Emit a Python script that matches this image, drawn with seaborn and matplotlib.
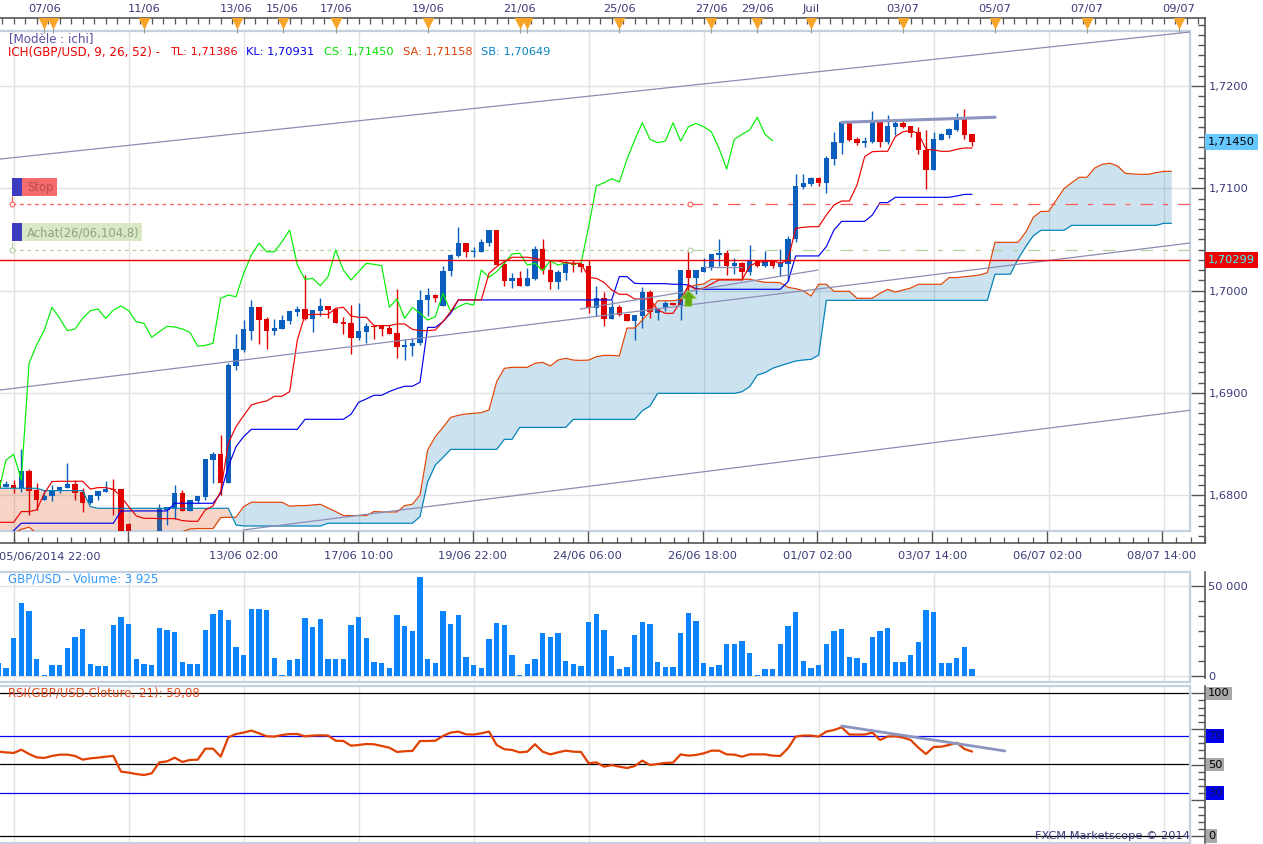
import numpy as np
import matplotlib
matplotlib.use("Agg")
import matplotlib.pyplot as plt
from matplotlib.patches import Rectangle
from matplotlib.path import Path
from matplotlib.ticker import FixedLocator
import seaborn as sns

# Candles, in pips above 1.0000 (6815 means 1,6815), first bar is index -1
bar_open = [6815,6808,6810,6807,6824,6805,6795,6799,6804,6807,6811,6803,6792,6799,6803,6806,6806,6772,6752,6748,
    6752,6763,6786,6787,6802,6785,6794,6798,6834,6840,6812,6926,6942,6961,6984,6972,6961,6962,6970,6979,
    6982,6972,6980,6985,6982,6969,6968,6954,6960,6965,6965,6963,6959,6945,6946,6949,6991,6996,6985,7019,
    7034,7047,7038,7038,7047,7059,7026,7009,7012,7005,7011,7041,7020,7008,7017,7027,7026,7024,6983,6993,
    6972,6984,6977,6970,6975,6999,6978,6983,6988,6986,7020,7012,7018,7023,7035,7037,7024,7027,7018,7029,
    7024,7029,7023,7026,7050,7101,7104,7110,7105,7129,7144,7165,7148,7144,7145,7165,7145,7160,7164,7161,
    7155,7137,7118,7147,7152,7157,7170,7153]
bar_close = [6807,6811,6807,6824,6804,6795,6799,6805,6808,6811,6802,6792,6800,6804,6806,6805,6763,6755,6748,6752,
    6757,6787,6788,6802,6785,6795,6799,6835,6840,6812,6927,6943,6962,6984,6971,6961,6963,6971,6980,6982,
    6972,6981,6985,6981,6968,6967,6954,6961,6965,6964,6962,6958,6945,6947,6949,6991,6996,6993,7019,7035,
    7047,7038,7039,7048,7059,7025,7009,7012,7005,7012,7041,7020,7008,7018,7026,7025,7023,6983,6993,6972,
    6984,6976,6970,6976,6999,6979,6983,6988,6986,7020,7012,7020,7023,7036,7037,7024,7027,7018,7029,7024,
    7029,7024,7027,7050,7102,7105,7110,7105,7130,7145,7165,7147,7144,7146,7165,7145,7161,7164,7160,7154,
    7137,7118,7148,7153,7158,7170,7152,7145]
bar_high = [6818,6814,6815,6845,6826,6812,6805,6810,6808,6831,6815,6807,6800,6804,6814,6816,6806,6773,6756,6755,
    6760,6791,6788,6810,6805,6795,6799,6835,6842,6859,6929,6958,6971,6991,6984,6974,6972,6976,6980,6985,
    7015,6981,6993,6985,6982,6974,6986,6988,6968,6965,6966,6966,7002,6953,6954,7001,7003,6997,7024,7036,
    7062,7047,7043,7050,7059,7059,7030,7017,7019,7022,7044,7050,7030,7020,7030,7030,7026,7030,7005,6999,
    6991,6986,6977,6976,7004,7001,6983,6990,6988,7020,7040,7020,7032,7036,7050,7040,7032,7028,7045,7029,
    7039,7029,7041,7053,7114,7114,7111,7111,7132,7155,7165,7165,7150,7150,7176,7167,7172,7166,7166,7161,
    7160,7157,7155,7154,7159,7174,7178,7153]
bar_low = [6807,6808,6802,6803,6781,6786,6795,6794,6802,6807,6795,6784,6791,6795,6803,6781,6760,6750,6745,6745,
    6750,6755,6771,6777,6785,6785,6792,6795,6812,6800,6812,6922,6940,6952,6948,6943,6957,6962,6967,6975,
    6971,6960,6975,6973,6968,6958,6938,6952,6949,6953,6956,6958,6934,6932,6936,6947,6975,6989,6985,7014,
    7033,7033,7033,7038,7044,7025,7005,7003,7005,7005,7010,7016,7002,7002,7010,7018,7018,6978,6975,6965,
    6972,6975,6970,6952,6963,6973,6971,6980,6986,6971,6997,6997,7018,7020,7024,7015,7016,7010,7015,7023,
    7023,7022,7014,7009,7048,7099,7102,7102,7095,7123,7134,7146,7142,7140,7144,7140,7143,7152,7159,7150,
    7134,7099,7118,7147,7149,7156,7148,7141]

# Ichimoku lines, same units
tenkan = [6773.5,6773.5,6773.5,6784,6784,6785.6,6801.9,6813.3,6813.6,6813.6,6813.6,6813.6,6806,6807.4,6807.4,6805.8,
    6798.6,6788.8,6779.7,6777.4,6777.4,6777.1,6777.1,6777.1,6775.2,6774.5,6774.5,6785.6,6789.5,6803.5,6850.8,6867,
    6877.8,6888.2,6890.5,6892.1,6896.7,6896.7,6901.3,6951.8,6976.2,6976.8,6976.8,6976.8,6982.7,6983.7,6975.2,6973.9,
    6973.9,6965.8,6965.8,6965.8,6967.4,6967.4,6962.2,6960.9,6960.9,6961.5,6969.7,6979.5,6990.9,6990.9,6990.9,6990.9,
    7016.9,7023.4,7028.3,7032.6,7032.6,7032.6,7031.6,7030,7029.3,7029,7027.3,7026.7,7026.7,7013,7012,7008.1,
    7000.6,6996.4,6996.4,6991.8,6991.8,6991.8,6981.1,6977.8,6977.8,6989.2,7005.5,7001.3,7002.3,7006.5,7010.4,7010.4,
    7010.4,7010.4,7024.1,7027.7,7028.3,7029.3,7026.7,7029.9,7060.9,7061.9,7062.5,7062.5,7073.9,7083.7,7087.6,7087.6,
    7103.2,7131,7135.8,7136.2,7136.2,7150.5,7155.4,7156.4,7153.7,7138.1,7137.5,7136.2,7136.2,7138.1,7139.4,7139.4]
kijun = [6760,6760,6765.4,6772.6,6772.6,6772.6,6772.6,6772.6,6772.6,6772.6,6772.6,6772.6,6772.6,6772.6,6772.6,6772.6,
    6784.6,6784.6,6784.6,6784.6,6784.6,6784.6,6784.6,6792.1,6792.1,6792.1,6792.1,6792.1,6792.1,6801.9,6828,6847.5,
    6857.3,6864.4,6864.4,6864.4,6864.4,6864.4,6864.4,6864.4,6874.2,6874.2,6874.2,6874.2,6874.2,6874.2,6879.1,6890.8,
    6894.1,6897.7,6897.7,6901.3,6904.2,6906.5,6906.5,6910.4,6964.1,6964.1,6969.7,6977.8,6990.9,6990.9,6990.9,6990.9,
    6990.9,6990.9,6990.9,6990.9,6990.9,6990.9,6990.9,6990.9,6990.9,6990.9,6990.9,6990.9,6990.9,6990.9,6990.9,6990.9,
    6990.9,7013.7,7013.7,7007.1,7006.8,7006.8,7006.8,7006.8,7006.2,7006.2,7005.5,7001.9,7001.3,7001.3,7001.3,7001.3,
    7001.3,7001.3,7001.3,7001.3,7001.3,7001.3,7001.3,7008.8,7033.9,7033.9,7033.9,7033.9,7043,7059.3,7067.7,7067.7,
    7067.7,7067.7,7073.9,7086,7086,7091.2,7091.2,7091.2,7091.2,7091.2,7091.2,7091.2,7091.2,7092.5,7094.1,7094.1]
chikou = [6802.2,6834.4,6840,6814.9,6928.9,6946.8,6961.5,6983.7,6972.9,6960.8,6962.5,6972.9,6980.4,6982,6972.9,6981,
    6985,6980.4,6969.6,6968,6954.4,6959.8,6965.1,6964.4,6962.5,6959.2,6945.6,6946.5,6948.5,6992.5,6995.7,6994,
    7016.9,7034.8,7046.2,7038,7038,7047.8,7059.2,7025,7011,7012,7004.8,7013.6,7039.7,7020.1,7010.4,7018.5,
    7026.7,7025.7,7024.3,6983.7,6991.8,6972.9,6983.7,6977.8,6971.3,6974.5,6997.4,6979.4,6984.3,6987.6,6985.9,7020.1,
    7013,7018.5,7026.7,7035.8,7036.5,7025,7026.7,7019.5,7029.2,7025,7027.2,7026,7026.7,7062.5,7102.3,7105.5,
    7109.4,7106.2,7128.3,7147.2,7164.1,7147.9,7144.6,7146.2,7164.1,7146.2,7160.2,7163.5,7160.2,7155.3,7139.1,7118.9,
    7147.9,7152.8,7157,7169.4,7152.8,7146.5]
senkou_a = [6762.8,6759.5,6762.8,6766.7,6768.7,6762.8,6755,6755,6755,6755,6755,6755,6755,6755,6755,6755,
    6755,6755,6755,6755,6755,6755,6755,6755,6764.4,6767,6767.4,6767.4,6767.4,6778.1,6778.4,6778.4,
    6788.8,6793.1,6793.1,6793.1,6793.1,6793.1,6789.2,6789.8,6789.8,6790.5,6791.1,6787.6,6784,6780.1,6780.1,6780.1,
    6780.1,6784,6783.6,6783.6,6783.6,6789.8,6791.1,6800.2,6844.2,6857.2,6866.3,6876.1,6878.1,6879.4,6880,6880.7,
    6883.3,6911,6924,6925,6925,6925,6928.9,6929.9,6926.3,6932.1,6933.8,6932.1,6931.8,6932.1,6935.4,6936.7,
    6936.7,6936.1,6963.4,6963.4,6971.3,6979.4,6990.1,6990.1,6990.1,6991.5,7003.2,7005.5,7006.5,7011.1,7011.1,7011.1,
    7011.1,7011.1,7011.1,7009.4,7008.1,7008.1,7007.7,7003.2,7001.9,6999.9,6994.7,7006.2,7006.2,6999.3,6999.3,6999.3,
    6992.5,6992.5,6992.5,6997.4,7001.3,6998.6,7000.6,7002.5,7006.2,7006.2,7006.2,7006.2,7012.7,7012.7,7013.6,7014.3,
    7015.3,7017.5,7047.2,7047.2,7047.2,7047.2,7057,7071.7,7077.5,7077.5,7088.6,7099.7,7105.5,7110.8,7110.8,7119.8,
    7123.5,7124.5,7121.8,7114.7,7114,7113.7,7113.7,7115.3,7116.6,7116.6]
senkou_b = [6806.8,6806.8,6806.8,6806.8,6806.8,6806.8,6804.5,6804.5,6804.5,6804.5,6804.5,6804.5,6788.8,6787.2,6787.2,6787.2,
    6787.2,6787.2,6787.2,6787.2,6787.2,6787.2,6787.2,6787.2,6787.2,6787.2,6787.2,6787.2,6787.2,6787.2,6787.2,6770.9,
    6769.9,6769.9,6769.9,6769.9,6769.9,6769.9,6769.9,6769.9,6769.9,6769.9,6769.9,6772.6,6772.6,6772.6,6772.6,6772.6,
    6772.6,6772.6,6772.6,6772.6,6772.6,6772.6,6772.6,6779,6813.2,6829.5,6837,6844.8,6844.8,6844.8,6844.8,6844.8,
    6844.8,6844.8,6854.6,6854.6,6866.3,6866.3,6866.3,6866.3,6866.3,6866.3,6866.3,6874.2,6874.2,6874.2,6874.2,6874.2,
    6874.2,6874.2,6874.2,6874.2,6882.6,6887.2,6899.6,6899.6,6899.6,6899.6,6899.6,6899.6,6899.6,6899.6,6899.6,6899.6,
    6899.6,6901.2,6906.1,6917.5,6919.8,6924.1,6926.6,6928.9,6931.2,6932.2,6932.8,6937,6990.5,6990.5,6990.5,6990.5,
    6990.5,6990.5,6990.5,6990.5,6990.5,6990.5,6990.5,6990.5,6990.5,6990.5,6990.5,6990.5,6990.5,6990.5,6990.5,6990.5,
    6990.5,6990.5,7016,7016,7016,7030.9,7042.9,7053.7,7059,7059,7059,7059,7063.8,7063.8,7063.8,7063.8,
    7063.8,7063.8,7063.8,7063.8,7063.8,7063.8,7063.8,7063.8,7065.8,7065.8]

volume = [7254,4464,21204,40734,36270,9486,372,6138,6138,15624,21762,26226,6696,5580,5580,28458,32922,29016,9486,6696,
    6138,26784,25668,24552,7812,6696,6696,25668,34596,36828,31248,16182,11718,37386,37386,36828,10044,558,8928,9486,
    32364,27342,31806,9486,9486,9486,28458,32922,21204,7812,7254,4464,34038,27900,25110,55242,9486,7254,36270,29016,
    34038,10602,6138,4464,20646,29574,28458,11718,558,6696,9486,23994,21762,23994,8370,6696,5580,30132,34596,25668,
    11160,3906,5022,22878,30132,29016,7812,5022,5022,23994,35154,30690,7254,5022,6138,17856,17856,19530,12834,372,
    3906,3906,17856,27900,35712,8370,4464,6138,17856,25110,26226,10602,10044,7254,21762,25110,26784,7812,7812,11718,
    18972,36828,35712,7254,7254,10044,16182,3925]

rsi = [59.0,58.5,58.1,60.4,57.4,55.0,54.6,56.0,56.9,56.9,56.0,53.4,54.3,54.8,55.5,56.0,45.0,44.3,43.3,42.6,
    43.8,51.5,52.2,54.8,51.8,53.2,53.4,61.1,61.1,55.5,69.1,71.4,72.4,73.8,71.9,69.8,69.6,70.7,71.4,71.4,
    69.8,70.3,70.5,70.3,66.7,66.5,63.2,63.7,64.4,64.2,63.0,61.8,58.8,59.3,59.5,66.5,66.5,66.7,70.0,72.4,
    73.1,71.2,71.0,71.9,73.1,63.7,60.7,60.2,58.5,59.0,64.2,59.0,57.1,58.5,59.7,59.0,58.8,50.8,51.5,48.5,
    49.6,48.5,47.5,48.9,52.7,49.6,50.4,51.1,51.3,57.1,56.2,56.7,57.8,59.7,59.7,57.1,56.9,55.5,57.1,57.1,
    57.1,56.2,56.0,61.4,69.6,70.3,70.3,69.6,73.1,74.2,76.1,71.0,71.0,71.0,72.4,67.2,69.6,69.8,68.9,67.2,
    61.8,57.4,62.3,62.5,63.7,65.3,60.9,59.08]

# Trend lines: (index, pips) at both ends
trend_thin = [([-0.78, 154.4], [7128.6, 7252.8]), ([-0.78, 154.4], [6902.8, 7046.5]),
    ([74.9, 105.9], [6982, 7020.1]), ([30.9, 154.4], [6766, 6883]), ([91, 96], [7023, 7023])]
trend_thick = ([109, 129], [7164.5, 7169.5])
rsi_trend = ([109, 130.3], [77, 59.5])

last_price = 7029.9
stop_price = 7084.4
entry_price = 7040
arrow_bar = 89
arrow_price = 6993

# Date marks along the top strip and labels under the chart
event_bars = [5, 6.1, 18, 30.1, 36.1, 43, 55, 67, 68, 80, 92, 98, 105, 117, 129, 141, 153]
top_bars = [5, 18, 30, 36, 43, 55, 67, 80, 92, 98, 105, 117, 129, 141, 153]
top_labels = ["07/06", "11/06", "13/06", "15/06", "17/06", "19/06", "21/06", "25/06", "27/06", "29/06",
    "Juil", "03/07", "05/07", "07/07", "09/07"]
date_bars = [31, 46, 61, 76, 91, 106, 121, 136, 151]
date_labels = ["13/06 02:00", "17/06 10:00", "19/06 22:00", "24/06 06:00", "26/06 18:00",
    "01/07 02:00", "03/07 14:00", "06/07 02:00", "08/07 14:00"]
first_date = "05/06/2014 22:00"

W, H = 1263, 844
PANEL_R = 1190
AXIS_R = 1205
BAR_PX = 115 / 15
TXT = "#3a3a78"
FRAME = "#c5d0de"
GRID = "#e2e2e2"
BLUE = "#0a5fbe"
RED = "#e00000"

sns.set_theme(style="white")
plt.rcParams["font.family"] = ["DejaVu Sans"]
plt.rcParams["font.size"] = 8

fig = plt.figure(figsize=(W / 100, H / 100), dpi=100, facecolor="white")


def price(pips):
    return 1 + np.array(pips) / 1e4


def index_at(px):
    return (px - 6) / BAR_PX


def add_box(left, top, right, bottom):
    # axes placed from pixel edges, y counted from the top of the figure
    return fig.add_axes([left / W, 1 - bottom / H, (right - left) / W, (bottom - top) / H])


def add_panel(top, bottom, ylim):
    ax = add_box(0, top, PANEL_R, bottom)
    ax.set_xlim(index_at(0), index_at(PANEL_R))
    ax.set_ylim(*ylim)
    ax.set_facecolor("white")
    ax.spines["left"].set_visible(False)
    for side in ["top", "bottom", "right"]:
        ax.spines[side].set_color(FRAME)
        ax.spines[side].set_linewidth(1.6)
    ax.tick_params(left=False, bottom=False, labelleft=False, labelbottom=False)
    ax.set_xticks(range(1, 155, 15))
    ax.grid(axis="x", color=GRID, linewidth=1)
    ax.set_axisbelow(True)
    return ax


def add_scale(top, bottom, ylim, majors, minors, labels):
    # dark ruler to the right of a panel, ticks point inwards
    ax = add_box(PANEL_R + 1, top, AXIS_R, bottom)
    ax.patch.set_alpha(0)
    ax.set_xticks([])
    ax.set_ylim(*ylim)
    for side in ["left", "top", "bottom"]:
        ax.spines[side].set_visible(False)
    ax.spines["right"].set_color("#555555")
    ax.spines["right"].set_linewidth(1.2)
    ax.yaxis.tick_right()
    ax.yaxis.set_major_locator(FixedLocator(majors))
    ax.yaxis.set_minor_locator(FixedLocator(minors))
    if labels:
        ax.set_yticklabels(labels)
    ax.tick_params(axis="y", which="major", direction="in", length=10, width=1, color="#555555",
                   labelcolor=TXT, labelsize=8.2, pad=2.5, labelright=bool(labels))
    ax.tick_params(axis="y", which="minor", direction="in", length=5, width=1, color="#555555")
    return ax


def line(ax, x, y, color, lw=0.85, z=4):
    sns.lineplot(x=x, y=y, ax=ax, color=color, linewidth=lw, estimator=None, errorbar=None,
                 legend=False, zorder=z)


def px_text(x, y, s, color, size=8.2):
    fig.text(x / W, 1 - y / H, s, color=color, fontsize=size, va="center", ha="left")


# ---- main price panel
price_lim = (1.6765, 1.72538)
ax = add_panel(31, 531, price_lim)
ax.set_yticks([1.68, 1.69, 1.70, 1.71, 1.72])
ax.grid(axis="y", color=GRID, linewidth=1)

bars = np.arange(-1, -1 + len(bar_open))
o = price(bar_open)
c = price(bar_close)
hi = price(bar_high)
lo = price(bar_low)

# cloud first so that candles and lines stay on top
cloud_x = np.arange(-1, -1 + len(senkou_a))
span_a = price(senkou_a)
span_b = price(senkou_b)
ax.fill_between(cloud_x, span_a, span_b, where=span_a >= span_b, interpolate=True,
                facecolor=(0.0, 0.45, 0.7, 0.2), linewidth=0, zorder=1)
ax.fill_between(cloud_x, span_a, span_b, where=span_a < span_b, interpolate=True,
                facecolor=(0.85, 0.25, 0.0, 0.22), linewidth=0, zorder=1)

up = c >= o
colors = np.where(up, BLUE, RED).astype(object)
colors[21] = "#2f5a9a"  # this candle sits under the cloud tint
ax.vlines(bars, lo, hi, colors=list(colors), linewidth=1.0, zorder=3)
ax.bar(bars, np.abs(c - o), bottom=np.minimum(o, c), width=0.66, color=list(colors), linewidth=0, zorder=3)

line(ax, cloud_x, span_a, "#e04000", z=4)
line(ax, cloud_x, span_b, "#0080b8", z=4)
line(ax, np.arange(-1, -1 + len(chikou)), price(chikou), "#00f000", z=5)
line(ax, np.arange(-1, -1 + len(kijun)), price(kijun), "#0000ee", z=5)
line(ax, np.arange(-1, -1 + len(tenkan)), price(tenkan), "#ee0000", z=5)

for tx, ty in trend_thin:
    line(ax, tx, price(ty), "#8c8cb4", lw=0.9, z=6)
line(ax, trend_thick[0], price(trend_thick[1]), "#8c94c0", lw=2.2, z=6)

ax.axhline(price(last_price), color="#ee0000", linewidth=1.0, zorder=6)

# stop and entry lines, tighter dashes up to the order bar
stop_x = index_at(12)
turn_x = index_at(690)
end_x = index_at(PANEL_R)
for level, col, z in [(stop_price, "#ff5a5a", 6), (entry_price, "#b4d2a0", 2)]:
    ax.plot([stop_x, turn_x], [price(level)] * 2, color=col, linewidth=0.9, dashes=(3, 3), zorder=z)
    ax.plot([turn_x, end_x], [price(level)] * 2, color=col, linewidth=0.9, dashes=(10, 8, 4, 8), zorder=z)
    ax.vlines(stop_x, price(level), price(level + 8), color=col, linewidth=0.8, zorder=7)
    ax.plot([stop_x, turn_x], [price(level)] * 2, linestyle="none", marker="o", markersize=3.5,
            markerfacecolor="white", markeredgecolor=col, markeredgewidth=0.8, zorder=7)

# buy arrow
arrow = Path([(0, 1), (1, 0), (0.45, 0), (0.45, -1), (-0.45, -1), (-0.45, 0), (-1, 0), (0, 1)])
ax.scatter([arrow_bar], [price(arrow_price)], marker=arrow, s=125, color="#5fa815",
           edgecolors="#9ccf45", linewidths=0.6, zorder=8)

# order labels, fixed boxes on the chart
for x0, y0, x1, y1, col in [(12, 178, 22, 196, "#3c3cc0"), (22, 178, 57, 196, "#f56a6a"),
                            (12, 223, 22, 241, "#3c3cc0"), (22, 223, 142, 241, "#dbe8c8")]:
    fig.add_artist(Rectangle((x0 / W, 1 - y1 / H), (x1 - x0) / W, (y1 - y0) / H, transform=fig.transFigure,
                             facecolor=col, edgecolor="none", zorder=10))
fig.text(27 / W, 1 - 187.5 / H, "Stop", color="#b84a50", fontsize=8.4, va="center", zorder=11)
fig.text(27 / W, 1 - 232.5 / H, "Achat(26/06,104,8)", color="#8aa87a", fontsize=8.4, va="center", zorder=11)

# ---- top strip with date marks
top = add_box(0, 18, AXIS_R, 31)
top.patch.set_alpha(0)
top.set_xlim(index_at(0), index_at(AXIS_R))
top.set_ylim(0, 1)
top.set_yticks([])
for side in ["left", "right", "bottom"]:
    top.spines[side].set_visible(False)
top.spines["top"].set_color("#555555")
top.spines["top"].set_linewidth(1.2)
top.xaxis.tick_top()
top.set_xticks(top_bars)
top.set_xticklabels(top_labels)
top.set_xticks(np.arange(-0.5, 157, 1.5), minor=True)
top.tick_params(axis="x", which="major", length=0, labelcolor=TXT, labelsize=8.2, pad=3)
top.tick_params(axis="x", which="minor", direction="in", length=4, width=0.9, color="#555555")
top.vlines(event_bars, -0.15, 0.4, color="#999999", linewidth=0.8, clip_on=False)
top.scatter(event_bars, [0.62] * len(event_bars), marker="v", s=80, color="#f8a428", linewidths=0, zorder=3)

# ---- bottom strip with time labels
bot = add_box(0, 531, AXIS_R, 543)
bot.patch.set_alpha(0)
bot.set_xlim(index_at(0), index_at(AXIS_R))
bot.set_ylim(0, 1)
bot.set_yticks([])
for side in ["left", "right", "top"]:
    bot.spines[side].set_visible(False)
bot.spines["bottom"].set_color("#555555")
bot.spines["bottom"].set_linewidth(1.2)
bot.set_xticks(date_bars)
bot.set_xticklabels(date_labels)
bot.set_xticks(np.arange(1, 157, 1.875), minor=True)
bot.tick_params(axis="x", which="major", bottom=True, direction="in", length=8.5, width=1, color="#555555",
                labelcolor=TXT, labelsize=8.2, pad=6)
bot.tick_params(axis="x", which="minor", bottom=True, direction="in", length=4, width=0.9, color="#555555")
bot.vlines([1, 16], 0, 1, color="#555555", linewidth=1)
px_text(-1, 557, first_date, TXT)

# ---- price ruler
price_scale = add_scale(18, 543, (1.67533, 1.72665), [1.68, 1.69, 1.70, 1.71, 1.72],
                        np.arange(1.676, 1.7265, 0.001), ["1,6800", "1,6900", "1,7000", "1,7100", "1,7200"])
price_scale.text(1.2, 1.7145, "1,71450", color="black", fontsize=8.2, va="center", clip_on=False,
                 transform=price_scale.get_yaxis_transform(),
                 bbox=dict(facecolor="#66c8ff", edgecolor="none", pad=2.2))
price_scale.text(1.2, price(last_price), "1,70299", color="#40ffff", fontsize=8.2, va="center", clip_on=False,
                 transform=price_scale.get_yaxis_transform(),
                 bbox=dict(facecolor="#ee0000", edgecolor="none", pad=2.2))

# ---- volume panel
vol_ax = add_panel(572, 681.5, (-3066, 57971))
vol_ax.set_yticks([0, 50000])
vol_ax.grid(axis="y", color=GRID, linewidth=1)
sns.barplot(x=bars, y=volume, ax=vol_ax, native_scale=True, width=0.66, color="#0a84ff", saturation=1,
            linewidth=0, errorbar=None, zorder=3)
vol_ax.set_xlim(index_at(0), index_at(PANEL_R))
vol_ax.set_ylim(-3066, 57971)
vol_ax.set_xticks(range(1, 155, 15))
vol_ax.tick_params(left=False, bottom=False, labelleft=False, labelbottom=False)
vol_ax.set_xlabel("")
vol_ax.set_ylabel("")

add_scale(572, 678, (-1115, 57971), [0, 50000], [50000 * k / 6 for k in range(1, 7)], ["0", "50 000"])

# ---- RSI panel
rsi_ax = add_panel(686, 842.7, (-4.9, 105.1))
for level, col in [(100, "black"), (70, "#0000ee"), (50, "black"), (30, "#0000ee"), (0, "black")]:
    rsi_ax.axhline(level, color=col, linewidth=0.9, zorder=2)
line(rsi_ax, np.arange(-1, -1 + len(rsi)), rsi, "#e04000", lw=1.6, z=4)
line(rsi_ax, rsi_trend[0], rsi_trend[1], "#8c94c0", lw=2.0, z=5)
rsi_ax.set_ylim(-4.9, 105.1)
rsi_ax.set_xlim(index_at(0), index_at(PANEL_R))

rsi_scale = add_scale(686, 843, (-4.9, 105.1), [0, 25, 50, 75, 100], np.arange(5, 100, 5), [])
for level, bg, fg in [(100, "#a8a8a8", "black"), (70, "#0000ee", "#101050"), (50, "#a8a8a8", "black"),
                      (30, "#0000ee", "#101050"), (0, "#a8a8a8", "black")]:
    rsi_scale.text(1.22, level, str(level), color=fg, fontsize=8.2, va="center", clip_on=False,
                   transform=rsi_scale.get_yaxis_transform(), bbox=dict(facecolor=bg, edgecolor="none", pad=1.2))

# ---- indicator captions
px_text(9, 39, "[Modèle : ichi]", "#5a50a0", 8.6)
px_text(8, 52, "ICH(GBP/USD, 9, 26, 52) -", "#ee0000", 8.6)
px_text(170, 52, "TL: 1,71386", "#ee0000")
px_text(246, 52, "KL: 1,70931", "#0000ee")
px_text(324, 52, "CS: 1,71450", "#00e000")
px_text(403, 52, "SA: 1,71158", "#e04000")
px_text(481, 52, "SB: 1,70649", "#0a84c0")
px_text(8, 579, "GBP/USD - Volume: 3 925", "#3399ff", 8.5)
px_text(8, 693, "RSI(GBP/USD.Cloture, 21): 59,08", "#e05020", 8.5)
px_text(1035, 836, "FXCM Marketscope © 2014", TXT)

fig.savefig("out.png", dpi=100)
